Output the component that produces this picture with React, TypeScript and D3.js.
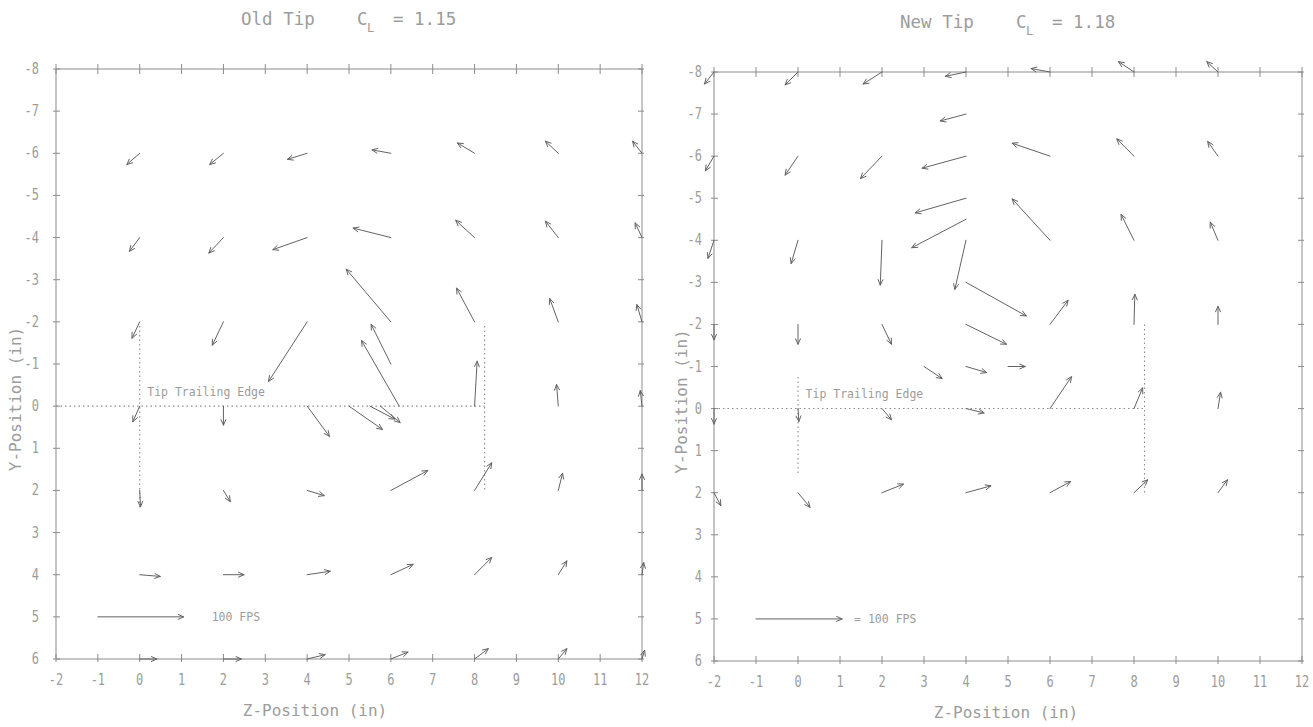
import * as d3 from "d3";

// tick values (in)
const zTicks = [-2, -1, 0, 1, 2, 3, 4, 5, 6, 7, 8, 9, 10, 11, 12];
const yTicks = [-8, -7, -6, -5, -4, -3, -2, -1, 0, 1, 2, 3, 4, 5, 6];

const REF_FPS = 100;
const REF_LEN = 2.05; // plot inches drawn for 100 FPS

// [z (in), y (in), w (FPS), v (FPS)]
const oldTipVectors: [number, number, number, number][] = [
  [0, -6, -15, 13], [2, -6, -16, 13], [4, -6, -23, 7], [6, -6, -22, -4],
  [8, -6, -20, -12], [10, -6, -15, -14], [12, -6, -11, -14],
  [0, -4, -12, 16], [2, -4, -17, 18], [4, -4, -40, 14], [6, -4, -44, -11],
  [8, -4, -22, -20], [10, -4, -15, -19], [12, -4, -8, -17],
  [0, -2, -9, 19], [2, -2, -13, 27], [4, -2, -45, 69], [6, -2, -52, -61],
  [8, -2, -21, -39], [10, -2, -10, -27], [12, -2, -6, -20],
  [6, -1, -23, -46],
  [0, 0, -8, 18], [2, 0, 0, 22], [4, 0, 26, 35], [5, 0, 39, 27],
  [5.5, 0, 29, 15], [5.75, 0, 23, 19], [6.2, 0, -44, -76],
  [8, 0, 3, -52], [10, 0, -2, -25], [12, 0, -2, -18],
  [0, 2, 1, 19], [2, 2, 8, 13], [4, 2, 20, 6], [6, 2, 43, -23],
  [8, 2, 20, -32], [10, 2, 5, -20], [12, 2, 0, -19],
  [0, 4, 24, 2], [2, 4, 24, 0], [4, 4, 27, -4], [6, 4, 26, -12],
  [8, 4, 20, -20], [10, 4, 10, -16], [12, 4, 2, -14],
  [0, 6, 20, 0], [2, 6, 21, 0], [4, 6, 21, -5], [6, 6, 20, -8],
  [8, 6, 16, -12], [10, 6, 10, -12], [12, 6, 3, -10],
];

const newTipVectors: [number, number, number, number][] = [
  [-2, -8, -11, 14], [0, -8, -15, 15], [2, -8, -22, 14], [4, -8, -24, 5],
  [6, -8, -22, -4], [8, -8, -18, -12], [10, -8, -13, -12],
  [4, -7, -30, 8],
  [-2, -6, -10, 17], [0, -6, -15, 22], [2, -6, -25, 26], [4, -6, -51, 14],
  [6, -6, -44, -15], [8, -6, -20, -20], [10, -6, -12, -17],
  [4, -5, -59, 17],
  [4, -4.5, -63, 33],
  [-2, -4, -7, 21], [0, -4, -8, 27], [2, -4, -2, 52], [4, -4, -13, 57],
  [6, -4, -44, -48], [8, -4, -15, -30], [10, -4, -9, -21],
  [4, -3, 70, 39],
  [-2, -2, 0, 18], [0, -2, 0, 23], [2, -2, 11, 23], [4, -2, 47, 23],
  [6, -2, 21, -28], [8, -2, 1, -35], [10, -2, 0, -21],
  [3, -1, 21, 14], [4, -1, 24, 7], [5, -1, 20, 0],
  [-2, 0, 0, 18], [0, 0, 1, 15], [2, 0, 11, 13], [4, 0, 21, 5],
  [6, 0, 25, -37], [8, 0, 10, -24], [10, 0, 3, -19],
  [-2, 2, 8, 15], [0, 2, 14, 17], [2, 2, 25, -10], [4, 2, 29, -8],
  [6, 2, 24, -13], [8, 2, 16, -15], [10, 2, 11, -15],
];

// tip trailing edge outline, [z, y] pairs
const oldTipEdge: [number, number][][] = [
  [[-2, 0], [8.24, 0]],
  [[0, -1.9], [0, 2.4]],
  [[8.24, -1.9], [8.24, 2.0]],
];
const newTipEdge: [number, number][][] = [
  [[-2, 0], [8.25, 0]],
  [[0, -0.75], [0, 1.6]],
  [[8.25, -2], [8.25, 2]],
];

const panels = [
  { key: "old", name: "Old Tip", cl: "1.15", vectors: oldTipVectors, edge: oldTipEdge,
    refText: "100 FPS", refGap: 28, box: [56, 69, 642, 659], titleY: 25, yTitleX: 21, yLabelX: 39, xTitleDx: -34 },
  { key: "new", name: "New Tip", cl: "1.18", vectors: newTipVectors, edge: newTipEdge,
    refText: "= 100 FPS", refGap: 12, box: [714, 72, 1302, 661], titleY: 28, yTitleX: 687, yLabelX: 702, xTitleDx: -2 },
];

const FONT = "'DejaVu Sans Mono', monospace";
const TEXT = "#9c9c9c";
const AXIS = "#8c8c8c";
const ARROW = "#636363";

function arrowPath(x1: number, y1: number, x2: number, y2: number, head = 6, spread = 0.42) {
  const a = Math.atan2(y2 - y1, x2 - x1);
  const p = d3.path();
  p.moveTo(x1, y1);
  p.lineTo(x2, y2);
  p.moveTo(x2 - head * Math.cos(a - spread), y2 - head * Math.sin(a - spread));
  p.lineTo(x2, y2);
  p.lineTo(x2 - head * Math.cos(a + spread), y2 - head * Math.sin(a + spread));
  return p.toString();
}

function Panel({ cfg }: { cfg: (typeof panels)[number] }) {
  const [x0, y0, x1, y1] = cfg.box;
  const x = d3.scaleLinear().domain([-2, 12]).range([x0, x1]);
  const y = d3.scaleLinear().domain([-8, 6]).range([y0, y1]);
  const k = REF_LEN / REF_FPS;
  const cx = (x0 + x1) / 2;
  const refEnd = -1 + REF_FPS * k;

  return (
    <g>
      {/* title */}
      <g fontFamily={FONT} fill={TEXT}>
        <text x={cx - 108} y={cfg.titleY} fontSize={17.5}>{cfg.name}</text>
        <text x={cx + 8} y={cfg.titleY} fontSize={17.5}>C</text>
        <text x={cx + 18} y={cfg.titleY + 7} fontSize={12}>L</text>
        <text x={cx + 44} y={cfg.titleY} fontSize={17.5}>{"= " + cfg.cl}</text>
      </g>

      {/* frame and ticks */}
      <g stroke={AXIS} strokeWidth={1} fill="none">
        <rect x={x0} y={y0} width={x1 - x0} height={y1 - y0} />
        {zTicks.map((t) => (
          <line key={"t" + t} x1={x(t)} x2={x(t)} y1={y0 - 5} y2={y0 + 5} />
        ))}
        {zTicks.map((t) => (
          <line key={"b" + t} x1={x(t)} x2={x(t)} y1={y1 - 5} y2={y1 + 3} />
        ))}
        {yTicks.map((t) => (
          <line key={"l" + t} x1={x0 - 3} x2={x0 + 4} y1={y(t)} y2={y(t)} />
        ))}
        {yTicks.map((t) => (
          <line key={"r" + t} x1={x1 - 4} x2={x1 + 2} y1={y(t)} y2={y(t)} />
        ))}
      </g>

      {/* tick labels */}
      <g fontFamily={FONT} fill={TEXT} fontSize={15}>
        {zTicks.map((t) => (
          <text key={"zl" + t} transform={`translate(${x(t)},${y1 + 26}) scale(0.8,1)`} textAnchor="middle">
            {t}
          </text>
        ))}
        {yTicks.map((t) => (
          <text key={"yl" + t} transform={`translate(${cfg.yLabelX},${y(t) + 5}) scale(0.8,1)`} textAnchor="end">
            {t}
          </text>
        ))}
      </g>

      {/* axis titles */}
      <text x={cx + cfg.xTitleDx} y={y1 + 57} fontFamily={FONT} fontSize={16} fill={TEXT} textAnchor="middle">
        Z-Position (in)
      </text>
      <text transform={`translate(${cfg.yTitleX},${(y0 + y1) / 2 + 35}) rotate(-90)`}
        fontFamily={FONT} fontSize={16} fill={TEXT} textAnchor="middle">
        Y-Position (in)
      </text>

      {/* tip trailing edge */}
      <g stroke={AXIS} strokeWidth={1.1} strokeDasharray="1.5 3" fill="none">
        {cfg.edge.map((seg, i) => (
          <line key={i} x1={x(seg[0][0])} y1={y(seg[0][1])} x2={x(seg[1][0])} y2={y(seg[1][1])} />
        ))}
      </g>
      <text x={x(0.18)} y={y(-0.25)} fontFamily={FONT} fontSize={11.5} fill={TEXT}>
        Tip Trailing Edge
      </text>

      {/* velocity vectors */}
      <g stroke={ARROW} strokeWidth={1} fill="none" strokeLinecap="round">
        {cfg.vectors.map(([z, yy, w, v], i) => (
          <path key={i} d={arrowPath(x(z), y(yy), x(z + w * k), y(yy + v * k))} />
        ))}
        <path d={arrowPath(x(-1), y(5), x(refEnd), y(5))} />
      </g>
      <text x={x(refEnd) + cfg.refGap} y={y(5) + 4} fontFamily={FONT} fontSize={11.5} fill={TEXT}>
        {cfg.refText}
      </text>
    </g>
  );
}

export default function App() {
  return (
    <svg width={1313} height={727} viewBox="0 0 1313 727"
      style={{ position: "absolute", left: 0, top: 0, background: "#fff" }}>
      <rect width={1313} height={727} fill="#fff" />
      {panels.map((p) => (
        <Panel key={p.key} cfg={p} />
      ))}
    </svg>
  );
}
